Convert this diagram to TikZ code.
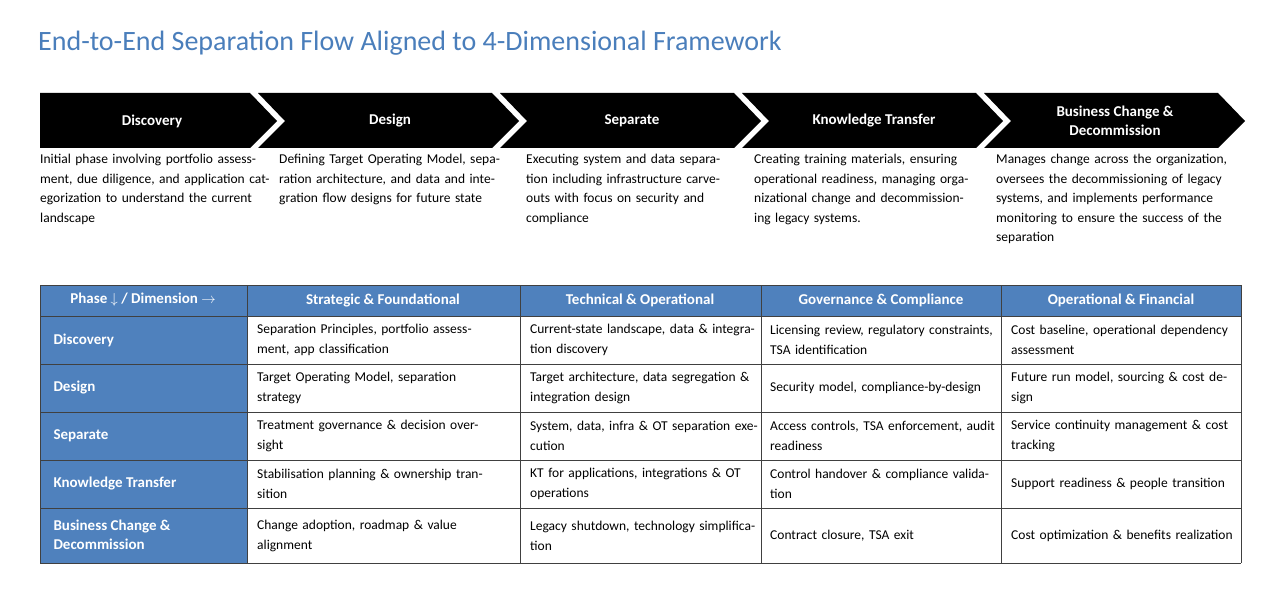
\documentclass[tikz,border=0pt]{standalone}
\usepackage{fontspec}
\setmainfont{Carlito}
\usetikzlibrary{positioning}
\definecolor{hdrblue}{HTML}{4F81BD}
\definecolor{titleblue}{HTML}{4A7EBB}
\tikzset{
  phase/.style={text=white,font=\fontsize{15}{19}\selectfont\bfseries,align=center},
  desc/.style={anchor=north west,text width=236pt,inner sep=0pt,align=left,font=\fontsize{13.5}{19.5}\selectfont},
  cell/.style={anchor=west,text width=228pt,inner sep=0pt,align=left,font=\fontsize{13.5}{19.5}\selectfont},
  head/.style={text=white,font=\fontsize{15}{19}\selectfont\bfseries},
  grid line/.style={draw=black!75,line width=0.8pt}
}
\begin{document}
\begin{tikzpicture}[x=1pt,y=-1pt]
\useasboundingbox (0,0) rectangle (1280,604);
\node[anchor=west,text=titleblue,font=\fontsize{28}{32}\selectfont,inner sep=0pt] (title) at (38,43) {End-to-End Separation Flow Aligned to 4-Dimensional Framework};
% chevrons
\fill (40,93) -- (250,93) -- (277,121) -- (250,148) -- (40,148) -- cycle;
\foreach \i in {1,2,3,4}{
  \pgfmathsetmacro\xa{258+242*(\i-1)}
  \fill (\xa,93) -- (\xa+234,93) -- (\xa+261,121) -- (\xa+234,148) -- (\xa,148) -- (\xa+27,121) -- cycle;
}
\node[phase] (p1) at (152,121) {Discovery};
\node[phase] (p2) at (390,121) {Design};
\node[phase] (p3) at (632,121) {Separate};
\node[phase] (p4) at (874,121) {Knowledge Transfer};
\node[phase] (p5) at (1115,121) {Business Change \&\\Decommission};
% descriptions
\node[desc] (d1) at (40,154) {Initial phase involving portfolio assessment, due diligence, and application categorization to understand the current landscape};
\node[desc,text width=222pt] (d2) at (279,154) {Defining Target Operating Model, separation architecture, and data and integration flow designs for future state};
\node[desc,text width=210pt] (d3) at (526,154) {Executing system and data separation including infrastructure carve-outs with focus on security and compliance};
\node[desc,text width=222pt] (d4) at (754,154) {Creating training materials, ensuring operational readiness, managing organizational change and decommissioning legacy systems.};
\node[desc,text width=240pt] (d5) at (996,154) {Manages change across the organization, oversees the decommissioning of legacy systems, and implements performance monitoring to ensure the success of the separation};
% table
\fill[hdrblue] (40,285) rectangle (1241,316);
\fill[hdrblue] (40,316) rectangle (247,563);
\foreach \x in {40,247,520,761,1001,1241} \draw[grid line] (\x,285) -- (\x,563);
\foreach \y in {285,316,364,412,460,508,563} \draw[grid line] (40,\y) -- (1241,\y);
\node[head] (h0) at (143,300) {Phase $\downarrow$ / Dimension $\rightarrow$};
\node[head] (h1) at (383,300) {Strategic \& Foundational};
\node[head] (h2) at (640,300) {Technical \& Operational};
\node[head] (h3) at (881,300) {Governance \& Compliance};
\node[head] (h4) at (1121,300) {Operational \& Financial};
\node[head,anchor=west] (r1) at (50,340) {Discovery};
\node[head,anchor=west] (r2) at (50,388) {Design};
\node[head,anchor=west] (r3) at (50,436) {Separate};
\node[head,anchor=west] (r4) at (50,484) {Knowledge Transfer};
\node[head,anchor=west,align=left] (r5) at (50,535) {Business Change \&\\Decommission};
% row 1
\node[cell] (c11) at (257,340) {Separation Principles, portfolio assessment, app classification};
\node[cell] (c12) at (530,340) {Current-state landscape, data \& integration discovery};
\node[cell] (c13) at (770,340) {Licensing review, regulatory constraints, TSA identification};
\node[cell] (c14) at (1011,340) {Cost baseline, operational dependency assessment};
% row 2
\node[cell] (c21) at (257,388) {Target Operating Model, separation strategy};
\node[cell] (c22) at (530,388) {Target architecture, data segregation \& integration design};
\node[cell] (c23) at (770,388) {Security model, compliance-by-design};
\node[cell] (c24) at (1011,388) {Future run model, sourcing \& cost design};
% row 3
\node[cell] (c31) at (257,436) {Treatment governance \& decision oversight};
\node[cell] (c32) at (530,436) {System, data, infra \& OT separation execution};
\node[cell] (c33) at (770,436) {Access controls, TSA enforcement, audit readiness};
\node[cell] (c34) at (1011,436) {Service continuity management \& cost tracking};
% row 4
\node[cell] (c41) at (257,484) {Stabilisation planning \& ownership transition};
\node[cell] (c42) at (530,484) {KT for applications, integrations \& OT operations};
\node[cell] (c43) at (770,484) {Control handover \& compliance validation};
\node[cell] (c44) at (1011,484) {Support readiness \& people transition};
% row 5
\node[cell] (c51) at (257,536) {Change adoption, roadmap \& value alignment};
\node[cell] (c52) at (530,536) {Legacy shutdown, technology simplification};
\node[cell] (c53) at (770,536) {Contract closure, TSA exit};
\node[cell] (c54) at (1011,536) {Cost optimization \& benefits realization};
\end{tikzpicture}
\end{document}
